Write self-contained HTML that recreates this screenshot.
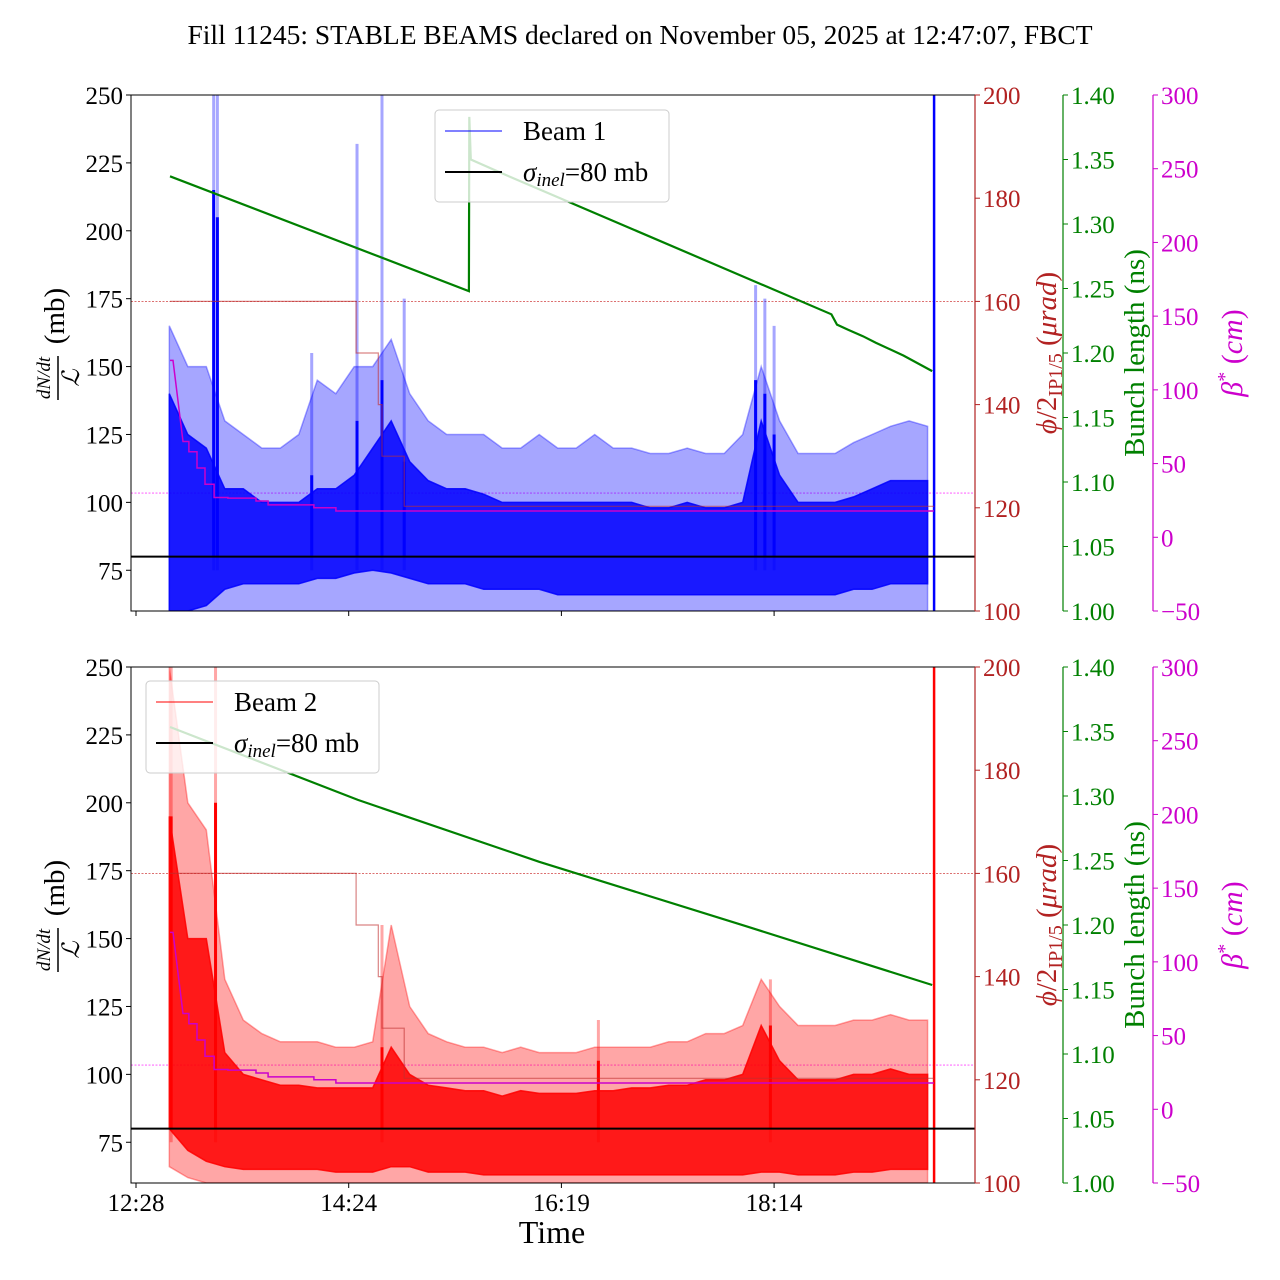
<!DOCTYPE html>
<html><head><meta charset="utf-8"><style>
html,body{margin:0;padding:0;background:#fff;}
svg{display:block;font-family:"Liberation Serif","DejaVu Serif",serif;}
</style></head><body>
<svg id="chart" width="1280" height="1280" viewBox="0 0 1280 1280" xmlns="http://www.w3.org/2000/svg">
<text x="640" y="44" text-anchor="middle" font-size="27.5">Fill 11245: STABLE BEAMS declared on November 05, 2025 at 12:47:07, FBCT</text>
</svg>
<script>
// ---- data (time in minutes after 12:28) ----
const bandTimes = [18,28,38,48,58,68,78,88,98,108,118,128,138,148,158,168,178,188,198,208,218,228,238,248,258,268,278,288,298,308,318,328,338,348,358,368,378,388,398,408,418,428];
const b1LightHi = [165,150,150,130,125,120,120,125,145,140,150,150,160,140,130,125,125,125,120,120,125,120,120,125,120,120,118,118,120,118,118,125,150,130,118,118,118,122,125,128,130,128];
const b1LightLo = [60,60,60,60,60,60,60,60,60,60,60,60,60,60,60,60,60,60,60,60,60,60,60,60,60,60,60,60,60,60,60,60,60,60,60,60,60,60,60,60,60,60];
const b1DarkHi = [140,125,120,105,105,100,100,100,105,105,110,120,130,115,108,105,105,103,100,100,100,100,100,100,100,100,98,98,100,98,98,100,130,110,100,100,100,102,105,108,108,108];
const b1DarkLo = [60,60,62,68,70,70,70,70,72,72,74,75,74,72,70,70,70,68,68,68,68,66,66,66,66,66,66,66,66,66,66,66,66,66,66,66,66,68,68,70,70,70];
const b1SpikeT = [42,44,95,119.5,133,145,335,340,345];
const b1SpikeLight = [250,250,155,232,250,175,180,175,165];
const b1SpikeDark = [215,205,110,130,145,115,145,140,125];
const b2LightHi = [250,200,190,135,120,115,112,112,112,110,110,112,155,125,115,112,110,110,108,110,108,108,108,110,110,110,110,112,112,115,115,118,135,125,118,118,118,120,120,122,120,120];
const b2LightLo = [66,62,60,60,60,60,60,60,60,60,60,60,60,60,60,60,60,60,60,60,60,60,60,60,60,60,60,60,60,60,60,60,60,60,60,60,60,60,60,60,60,60];
const b2DarkHi = [195,150,150,108,100,98,96,96,95,95,95,95,110,100,96,95,94,94,92,94,93,93,93,94,94,95,95,96,96,98,98,100,118,105,98,98,98,100,100,102,100,100];
const b2DarkLo = [80,72,68,66,65,65,65,65,65,64,64,64,66,66,64,64,64,63,63,63,63,63,63,63,63,63,63,63,63,63,63,63,64,64,63,63,63,64,64,65,65,65];
const b2SpikeT = [19,43,133,250,343];
const b2SpikeLight = [250,250,155,120,135];
const b2SpikeDark = [195,200,110,105,118];
const endTime = 431.5;
const phiT = [18.4,119,131,133,145,431.5];
const phiV = [160,150,140,130,120.3,120.3];
const betaT = [18.4,20,25.4,28.6,33,37.3,42.2,49.7,64.9,71.4,96.2,108.1,431.4];
const betaV = [120,120,65,58,47,36,27,26.6,24.6,22,20,17.8,17.8];
const bl1T = [18.4,180,180.2,181,200,376,379,385,393,400,415,430.5];
const bl1V = [1.337,1.248,1.383,1.350,1.338,1.230,1.222,1.218,1.213,1.208,1.198,1.186];
const bl2T = [18.4,120,218,330,430.5];
const bl2V = [1.3535,1.297,1.249,1.199,1.1535];
const xTickT = [0,115,230,345];
const xTickLabels = ["12:28","14:24","16:19","18:14"];
const yTicks = [75,100,125,150,175,200,225,250];
const phiTicks = [100,120,140,160,180,200];
const blTicks = [1.00,1.05,1.10,1.15,1.20,1.25,1.30,1.35,1.40];
const blTickLabels = ["1.00","1.05","1.10","1.15","1.20","1.25","1.30","1.35","1.40"];
const betaTicks = [-50,0,50,100,150,200,250,300];
const betaTickLabels = ["\u221250","0","50","100","150","200","250","300"];

// ---- layout ----
const NS = "http://www.w3.org/2000/svg";
const svg = document.getElementById('chart');
const X0 = 131, X1 = 975;
const FS = 25;
const xs = t => 136 + t * (212.7/115);
function mk(tag, attrs, parent){ const e=document.createElementNS(NS,tag); for(const k in attrs) e.setAttribute(k,attrs[k]); (parent||svg).appendChild(e); return e; }

function panel(top, beam, cfg){
  const bot = top + 516;
  const g = mk('g',{});
  
  
  const yL = v => top + (250 - v) / (250 - 60) * 516;
  const yR = v => top + (200 - v) / 100 * 516;
  const yG = v => top + (1.40 - v) / 0.40 * 516;
  const yM = v => top + (300 - v) / 350 * 516;
  const clip = mk('clipPath',{id:'clip'+beam}, g);
  mk('rect',{x:X0,y:top,width:X1-X0,height:516}, clip);
  const plot = mk('g',{'clip-path':'url(#clip'+beam+')'}, g);
  
  
  const r1 = mk('line',{x1:X0,x2:X1,y1:yR(160),y2:yR(160),stroke:'#d04040','stroke-width':0.8,'stroke-dasharray':'2,1.5'}, plot);
  
  
  const m1 = mk('line',{x1:X0,x2:X1,y1:yM(30),y2:yM(30),stroke:'#ff44ff','stroke-width':0.8,'stroke-dasharray':'2,1.5'}, plot);
  
  
  const band = (hi, lo, color, op, name) => {
    let d = '';
    bandTimes.forEach((t,i)=>{ d += (i?'L':'M') + xs(t).toFixed(1) + ',' + yL(hi[i]).toFixed(1); });
    for(let i=bandTimes.length-1;i>=0;i--) d += 'L' + xs(bandTimes[i]).toFixed(1) + ',' + yL(lo[i]).toFixed(1);
    const p = mk('path',{d:d+'Z',fill:color,'fill-opacity':op,stroke:color,'stroke-opacity':op,'stroke-width':1.5}, plot);
    
    
  };
  band(cfg.lightHi, cfg.lightLo, cfg.color, 0.35, 'beam'+beam+'-envelope');
  cfg.spikeT.forEach((t,i)=>{
    const s = mk('line',{x1:xs(t),x2:xs(t),y1:yL(75),y2:yL(cfg.spikeLight[i]),stroke:cfg.color,'stroke-opacity':0.35,'stroke-width':3}, plot);
    
    
  });
  band(cfg.darkHi, cfg.darkLo, cfg.color, 0.85, 'beam'+beam+'-rate');
  cfg.spikeT.forEach((t,i)=>{
    const s = mk('line',{x1:xs(t),x2:xs(t),y1:yL(80),y2:yL(cfg.spikeDark[i]),stroke:cfg.color,'stroke-width':3}, plot);
    
    
  });
  const ev = mk('line',{x1:xs(endTime),x2:xs(endTime),y1:yL(60),y2:yL(260),stroke:cfg.color,'stroke-width':2.5}, plot);
  
  
  let d='';
  phiT.forEach((t,i)=>{ d += (i? 'H'+xs(t).toFixed(1)+'V'+yR(phiV[i]).toFixed(1) : 'M'+xs(t).toFixed(1)+','+yR(phiV[i]).toFixed(1)); });
  const ph = mk('path',{d:d,fill:'none',stroke:'#c03030','stroke-opacity':0.6,'stroke-width':1.2}, plot);
  
  
  d='';
  betaT.forEach((t,i)=>{ d += (i<3 ? (i?'L':'M')+xs(t).toFixed(1)+','+yM(betaV[i]).toFixed(1) : 'H'+xs(t).toFixed(1)+'V'+yM(betaV[i]).toFixed(1)); });
  const be = mk('path',{d:d,fill:'none',stroke:'#cc00cc','stroke-width':1.5}, plot);
  
  
  d='';
  cfg.blT.forEach((t,i)=>{ d += (i?'L':'M')+xs(t).toFixed(1)+','+yG(cfg.blV[i]).toFixed(1); });
  const bl = mk('path',{d:d,fill:'none',stroke:'#008000','stroke-width':2.2}, plot);
  
  
  const sg = mk('line',{x1:X0,x2:X1,y1:yL(80),y2:yL(80),stroke:'#000','stroke-width':2}, plot);
  
  
  const fr = mk('rect',{x:X0,y:top,width:X1-X0,height:516,fill:'none',stroke:'#000','stroke-width':1}, g);
  
  
  yTicks.forEach(v=>{
    mk('line',{x1:X0-5,x2:X0,y1:yL(v),y2:yL(v),stroke:'#000'}, g);
    const t = mk('text',{x:X0-8,y:yL(v)+9,'text-anchor':'end','font-size':FS}, g);
    t.textContent = v;
    
    
  });
  xTickT.forEach((tt,i)=>{
    mk('line',{x1:xs(tt),x2:xs(tt),y1:bot,y2:bot+5,stroke:'#000'}, g);
    if(cfg.xlabels){
      const t = mk('text',{x:xs(tt),y:bot+28,'text-anchor':'middle','font-size':FS}, g);
      t.textContent = xTickLabels[i];
      
      
    }
  });
  const axis = (x, ticks, labels, yf, color, name) => {
    const a = mk('g',{}, g);
    
    
    mk('line',{x1:x,x2:x,y1:top,y2:bot,stroke:color,'stroke-width':1.2}, a);
    ticks.forEach((v,i)=>{
      mk('line',{x1:x,x2:x+5,y1:yf(v),y2:yf(v),stroke:color}, a);
      const t = mk('text',{x:x+8,y:yf(v)+9,'font-size':FS,fill:color}, a);
      t.textContent = labels[i];
      
      
    });
  };
  axis(975, phiTicks, phiTicks.map(String), yR, '#b22222', 'phi-axis');
  axis(1063, blTicks, blTickLabels, yG, '#008000', 'bunch-length-axis');
  axis(1153, betaTicks, betaTickLabels, yM, '#cc00cc', 'beta-axis');
  const cy = top + 258;
  const t1 = mk('text',{transform:`translate(1056,${cy}) rotate(-90)`,'text-anchor':'middle','font-size':29,fill:'#b22222'}, g);
  t1.innerHTML = '<tspan font-style="italic">ϕ</tspan>/2<tspan font-size="20" dy="6">IP1/5</tspan><tspan dy="-6"> (</tspan><tspan font-style="italic">μrad</tspan>)';
  
  
  const t2 = mk('text',{transform:`translate(1144,${cy}) rotate(-90)`,'text-anchor':'middle','font-size':29,fill:'#008000'}, g);
  t2.textContent = 'Bunch length (ns)';
  
  
  const t3 = mk('text',{transform:`translate(1242,${cy}) rotate(-90)`,'text-anchor':'middle','font-size':30,fill:'#cc00cc'}, g);
  t3.innerHTML = '<tspan font-style="italic">β</tspan><tspan font-size="20" dy="-11">*</tspan><tspan dy="11"> (</tspan><tspan font-style="italic">cm</tspan>)';
  
  
  const lt = mk('g',{transform:`translate(58,${cy-5}) rotate(-90)`}, g);
  
  
  const n = mk('text',{x:-30,y:-8,'text-anchor':'middle','font-size':19,'font-style':'italic'}, lt); n.textContent='dN/dt';
  mk('line',{x1:-52,x2:-8,y1:0,y2:0,stroke:'#000','stroke-width':1.5}, lt);
  const l = mk('text',{x:-30,y:21,'text-anchor':'middle','font-size':24,'font-style':'italic'}, lt); l.textContent='ℒ';
  const mb = mk('text',{x:32,y:6,'text-anchor':'middle','font-size':29}, lt); mb.textContent='(mb)';
  const L = cfg.legend;
  const lg = mk('g',{}, g);
  
  
  mk('rect',{x:L.x,y:L.y,width:L.w,height:92,rx:4,fill:'#fff','fill-opacity':0.8,stroke:'#ccc'}, lg);
  const e1 = mk('line',{x1:L.x+10,x2:L.x+67,y1:L.y+21,y2:L.y+21,stroke:cfg.color,'stroke-width':1}, lg);
  
  
  const lt1 = mk('text',{x:L.x+88,y:L.y+30,'font-size':27}, lg); lt1.textContent = 'Beam '+beam;
  const e2 = mk('line',{x1:L.x+10,x2:L.x+67,y1:L.y+62,y2:L.y+62,stroke:'#000','stroke-width':2}, lg);
  
  
  const lt2 = mk('text',{x:L.x+88,y:L.y+71,'font-size':27}, lg);
  lt2.innerHTML = '<tspan font-style="italic">σ</tspan><tspan font-style="italic" font-size="19" dy="5">inel</tspan><tspan dy="-5">=80 mb</tspan>';
}

panel(95, 1, {color:'#0000ff', lightHi:b1LightHi, lightLo:b1LightLo, darkHi:b1DarkHi, darkLo:b1DarkLo,
  spikeT:b1SpikeT, spikeLight:b1SpikeLight, spikeDark:b1SpikeDark, blT:bl1T, blV:bl1V, xlabels:false,
  legend:{x:435,y:110,w:234}});
panel(667, 2, {color:'#ff0000', lightHi:b2LightHi, lightLo:b2LightLo, darkHi:b2DarkHi, darkLo:b2DarkLo,
  spikeT:b2SpikeT, spikeLight:b2SpikeLight, spikeDark:b2SpikeDark, blT:bl2T, blV:bl2V, xlabels:true,
  legend:{x:146,y:681,w:233}});
const xt = mk('text',{x:552,y:1243,'text-anchor':'middle','font-size':32});
xt.textContent = 'Time';


</script>
</body></html>
